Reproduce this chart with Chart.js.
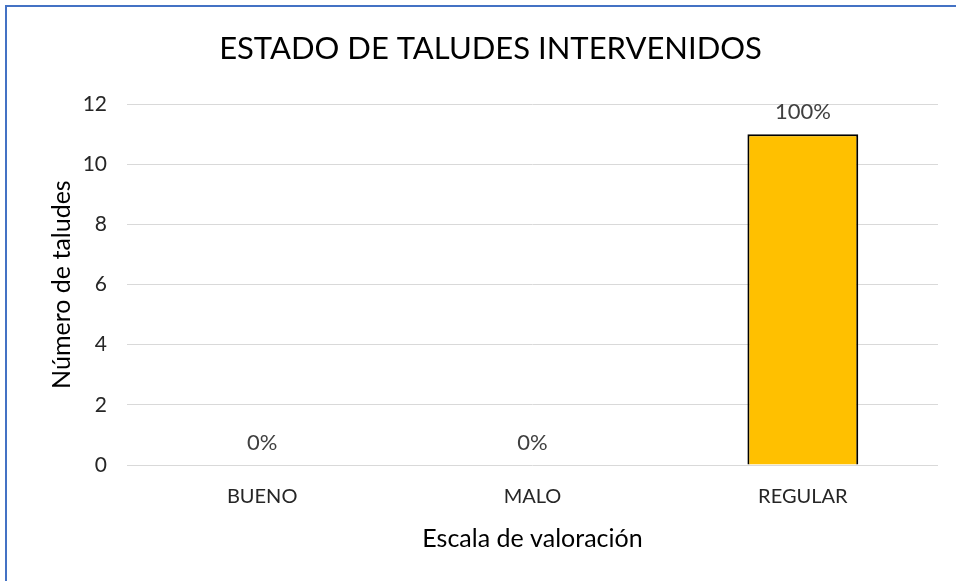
<!DOCTYPE html>
<html lang="es">
<head>
<meta charset="utf-8">
<title>Estado de taludes intervenidos</title>
<script src="https://cdn.jsdelivr.net/npm/chart.js@4/dist/chart.umd.min.js"></script>
<style>
  html, body { margin: 0; padding: 0; background: #ffffff; }
  #frame {
    position: absolute; left: 5px; top: 5px;
    width: 951px; height: 576px;
    border-left: 2px solid #4472C4;
    border-top: 2px solid #4472C4;
    box-sizing: border-box;
  }
  #wrap { position: absolute; left: 0; top: 0; width: 949px; height: 574px; }
</style>
</head>
<body>
<div id="frame"><div id="wrap"><canvas id="chart"></canvas></div></div>
<script>
// Categories and counts of slopes per rating
const categories = ['BUENO', 'MALO', 'REGULAR'];
const counts = [0, 0, 11];
const percentLabels = ['0%', '0%', '100%'];
const yTicks = [0, 2, 4, 6, 8, 10, 12];

const FONT = "Lato, 'Open Sans', sans-serif";

// Writes the percentage share above each bar
const barLabels = {
  id: 'barLabels',
  afterDatasetsDraw(chart) {
    const ctx = chart.ctx;
    const meta = chart.getDatasetMeta(0);
    ctx.save();
    ctx.font = '22px ' + FONT;
    ctx.fillStyle = '#404040';
    ctx.textAlign = 'center';
    ctx.textBaseline = 'middle';
    meta.data.forEach((bar, i) => {
      ctx.fillText(percentLabels[i], bar.x, bar.y - 22);
    });
    ctx.restore();
  }
};

new Chart(document.getElementById('chart'), {
  type: 'bar',
  data: {
    labels: categories,
    datasets: [{
      data: counts,
      backgroundColor: '#FFC000',
      borderColor: '#000000',
      borderWidth: 2,
      borderSkipped: 'start',
      barPercentage: 0.41,
      categoryPercentage: 1
    }]
  },
  options: {
    responsive: true,
    maintainAspectRatio: false,
    animation: false,
    layout: { padding: { left: 36, right: 18, top: 0, bottom: 27 } },
    plugins: {
      legend: { display: false },
      tooltip: { enabled: false },
      title: {
        display: true,
        text: 'ESTADO DE TALUDES INTERVENIDOS',
        color: '#000000',
        font: { family: FONT, size: 31, weight: 'normal', lineHeight: 1.2 },
        padding: { top: 23, bottom: 37 }
      }
    },
    scales: {
      x: {
        grid: { display: false, drawTicks: false },
        border: { display: false },
        ticks: { color: '#262626', padding: 20, font: { family: FONT, size: 20 } },
        title: {
          display: true,
          text: 'Escala de valoración',
          color: '#000000',
          font: { family: FONT, size: 25, lineHeight: 1.2 },
          padding: { top: 4, bottom: 0 }
        },
        afterFit(scale) { scale.height = 89; }
      },
      y: {
        min: 0,
        max: 12,
        afterBuildTicks(scale) { scale.ticks = yTicks.map(v => ({ value: v })); },
        grid: { color: '#d9d9d9', lineWidth: 1, drawTicks: false },
        border: { display: false },
        ticks: { color: '#262626', padding: 20, font: { family: FONT, size: 21 } },
        title: {
          display: true,
          text: 'Número de taludes',
          color: '#000000',
          font: { family: FONT, size: 25, lineHeight: 1.2 },
          padding: { top: 4, bottom: 0 }
        },
        afterFit(scale) { scale.width = 84; }
      }
    }
  },
  plugins: [barLabels]
});
</script>
</body>
</html>
